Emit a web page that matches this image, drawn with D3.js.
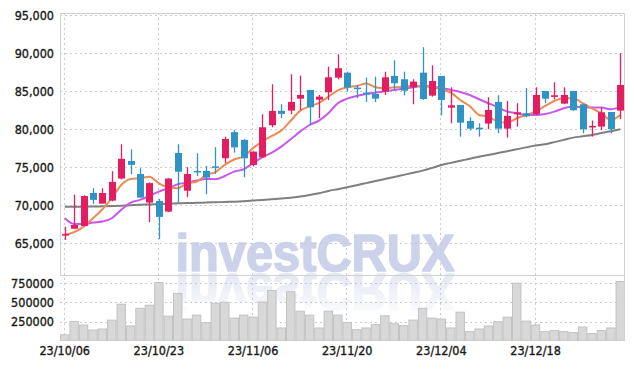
<!DOCTYPE html>
<html><head><meta charset="utf-8">
<script src="https://cdn.jsdelivr.net/npm/d3@7"></script>
<style>body{margin:0;background:#fff}svg{display:block}</style>
</head><body><svg id="c" width="634" height="369" xmlns:xlink="http://www.w3.org/1999/xlink"></svg>
<script>
const dates = ["23/10/06","23/10/10","23/10/11","23/10/12","23/10/13","23/10/16","23/10/17","23/10/18","23/10/19","23/10/20",
"23/10/23","23/10/24","23/10/25","23/10/26","23/10/27","23/10/30","23/10/31","23/11/01","23/11/02","23/11/03",
"23/11/06","23/11/07","23/11/08","23/11/09","23/11/10","23/11/13","23/11/14","23/11/15","23/11/16","23/11/17",
"23/11/20","23/11/21","23/11/22","23/11/23","23/11/24","23/11/27","23/11/28","23/11/29","23/11/30","23/12/01",
"23/12/04","23/12/05","23/12/06","23/12/07","23/12/08","23/12/11","23/12/12","23/12/13","23/12/14","23/12/15",
"23/12/18","23/12/19","23/12/20","23/12/21","23/12/22","23/12/26","23/12/27","23/12/28","24/01/02","24/01/03"];
const open = [66000,66900,67270,71600,70200,70600,73500,75800,74100,70340,
70560,69150,76870,71900,74500,74500,75100,76170,79600,78580,
75290,76300,80510,82400,82430,84000,85150,83870,84840,86760,
87420,85450,84800,84620,84920,86990,86550,85500,87420,84400,
86990,82820,83170,81070,80190,80730,83570,80060,81950,82080,
81950,85010,84230,83350,85010,83270,80290,80330,82250,82430];
const close = [66200,67400,71200,70700,71600,73060,76100,75300,71000,72900,
68460,73500,74400,74100,74400,73620,75000,78700,77600,76170,
77040,80240,82390,82000,83570,84490,82870,84270,86810,88000,
85450,85280,84530,84000,86810,86030,85050,86240,83960,86330,
83830,83130,80850,80060,79980,82520,80060,81730,82210,81690,
84490,84000,84450,84490,82480,79980,80420,82210,79980,85800];
const high = [67180,71400,71300,72230,72230,74460,78010,77350,74860,73000,
70820,73550,78010,74990,76830,75160,77620,79010,79890,78670,
77100,81950,85890,83270,87210,87030,85150,84490,88210,89840,
87550,85800,86760,86900,87550,89050,87550,86550,90760,88390,
86990,85500,83170,81560,80770,84190,84450,83700,83400,85410,
85500,85010,86160,85500,85010,83270,81130,82870,82250,89970];
const low = [65435,66900,67200,70170,70200,70500,73400,74070,70990,67760,
65530,69100,70340,71050,73840,71440,74110,75510,76910,73670,
75100,76200,80240,81430,81950,82520,80540,81430,83830,86550,
84920,84050,83570,83570,84490,85050,84450,83270,83830,84270,
81820,80770,79010,79800,79010,79980,79450,78880,80330,81560,
81860,83400,83920,83270,82400,79450,79010,79890,79450,81300];
const volume = [80000,254000,207000,143000,156000,271000,477000,195000,425000,464000,
759000,323000,618000,285000,336000,237000,490000,503000,297000,336000,
310000,506000,656000,169000,639000,387000,336000,169000,387000,336000,
241000,147000,169000,212000,327000,224000,199000,271000,425000,297000,
285000,169000,374000,122000,156000,195000,250000,310000,750000,259000,
207000,122000,135000,122000,109000,182000,96000,135000,169000,772000];
const ma5 = [66100,66450,67180,68280,69470,70910,72660,73450,73540,73750,
72880,72350,72230,72880,73060,74000,74350,75300,76000,76400,
77500,78400,79100,79800,81100,82400,83000,83450,84250,85100,
85500,85670,86000,85500,85370,85500,85580,85670,85670,85500,
85240,84800,83830,83040,81860,81640,80980,80850,81430,81860,
82300,83040,83700,84050,84050,83400,82740,82080,81200,81860];
const ma20 = [68280,67540,67540,67710,67840,68280,69380,70340,70690,71220,
71780,72230,72750,72970,73230,73450,73410,73840,74410,74720,
75510,76300,76910,77700,78670,79670,80540,81110,82080,83400,
84000,84360,84620,84800,84970,85150,85320,85500,85670,85580,
85410,85150,84880,84490,83920,83400,82870,82300,82080,81860,
81860,81990,82300,82740,82960,82870,82830,82830,82610,82960];
const ma60 = [69800,69800,69800,69820,69850,69880,69920,69980,70050,70100,
70150,70200,70240,70280,70310,70340,70380,70420,70460,70520,
70600,70680,70770,70870,70990,71130,71330,71570,71870,72100,
72350,72620,72900,73180,73440,73700,73980,74260,74540,74900,
75290,75560,75830,76100,76370,76600,76860,77100,77350,77600,
77830,78010,78290,78580,78880,79060,79230,79480,79730,79980];
const priceTicks = [65000,70000,75000,80000,85000,90000,95000];
const volTicks = [250000,500000,750000];
const dateTicks = ["23/10/06","23/10/23","23/11/06","23/11/20","23/12/04","23/12/18"];

const svg = d3.select("#c");
const L = 60, R = 625, T = 13, MB = 275, VB = 341;
const x = d3.scaleBand().domain(dates).range([L, R]).padding(0);
const cx = d => x(d) + x.bandwidth()/2;
const y = d3.scaleLinear().domain([65000, 95000]).range([243.2, 15]);
const yv = d3.scaleLinear().domain([0, 750000]).range([341, 283.2]);
const font = "'DejaVu Sans Condensed','DejaVu Sans',sans-serif";
const gridCol = "#c9c9d9";

// defs
const defs = svg.append("defs");
const grad = defs.append("linearGradient").attr("id","fade").attr("x1",0).attr("y1",0).attr("x2",0).attr("y2",1);
grad.append("stop").attr("offset","0").attr("stop-color","#fff").attr("stop-opacity",1);
grad.append("stop").attr("offset","1").attr("stop-color","#fff").attr("stop-opacity",0);
const mask = defs.append("mask").attr("id","m").attr("maskUnits","userSpaceOnUse")
  .attr("x",0).attr("y",272).attr("width",634).attr("height",48);
mask.append("rect").attr("x",0).attr("y",272).attr("width",634).attr("height",48).attr("fill","url(#fade)");
defs.append("clipPath").attr("id","cm").append("rect").attr("x",L).attr("y",T).attr("width",R-L).attr("height",MB-T);
defs.append("clipPath").attr("id","cv").append("rect").attr("x",L).attr("y",MB).attr("width",R-L).attr("height",VB-MB);

// watermark
const wm = svg.append("g");
wm.append("text").attr("id","wmt").attr("x",175.5).attr("y",270.5).text("investCRUX")
  .attr("font-family","'Liberation Sans',Arial,sans-serif").attr("font-weight","bold").attr("font-size",51)
  .attr("textLength",279).attr("lengthAdjust","spacingAndGlyphs")
  .attr("fill","rgb(192,200,228)").attr("stroke","rgb(192,200,228)").attr("stroke-width",1.6)
  .attr("stroke-linejoin","round").attr("opacity",0.8);
wm.append("g").attr("mask","url(#m)").append("use").attr("href","#wmt")
  .attr("transform","translate(0,544) scale(1,-1)").attr("opacity",0.55);

// grid
const g = svg.append("g");
g.selectAll(".hg").data(priceTicks).join("line")
  .attr("x1",L).attr("x2",R).attr("y1",d=>Math.round(y(d))+0.5).attr("y2",d=>Math.round(y(d))+0.5)
  .attr("stroke",gridCol).attr("stroke-dasharray","2,3");
g.selectAll(".vg").data(volTicks).join("line")
  .attr("x1",L).attr("x2",R).attr("y1",d=>Math.round(yv(d))+0.5).attr("y2",d=>Math.round(yv(d))+0.5)
  .attr("stroke",gridCol).attr("stroke-dasharray","2,3");
g.selectAll(".dg").data(dateTicks).join("line")
  .attr("x1",d=>Math.round(cx(d))-0.5).attr("x2",d=>Math.round(cx(d))-0.5).attr("y1",T).attr("y2",VB)
  .attr("stroke",gridCol).attr("stroke-dasharray","2,3");

// volume bars
svg.append("g").attr("clip-path","url(#cv)").selectAll("rect").data(dates).join("rect")
  .attr("x",d=>x(d)+0.5).attr("width",x.bandwidth()-1)
  .attr("y",(d,i)=>yv(volume[i])).attr("height",(d,i)=>yv(0)-yv(volume[i]))
  .attr("fill","#d8d8d8").attr("stroke","#c2c2c2").attr("stroke-width",1);

// frame
const fr = svg.append("g").attr("stroke","#d2d2d2").attr("fill","none");
fr.append("line").attr("x1",L).attr("x2",R).attr("y1",T+0.5).attr("y2",T+0.5);
fr.append("line").attr("x1",L).attr("x2",R).attr("y1",MB+0.5).attr("y2",MB+0.5);
fr.append("line").attr("x1",L+0.5).attr("x2",L+0.5).attr("y1",T).attr("y2",MB);
fr.append("line").attr("x1",R-0.5).attr("x2",R-0.5).attr("y1",T).attr("y2",VB);

// moving averages
const plot = svg.append("g").attr("clip-path","url(#cm)");
const ln = arr => d3.line().x((d,i)=>cx(dates[i])).y(d=>y(d)).curve(d3.curveMonotoneX)(arr);
plot.append("path").attr("d",ln(ma60)).attr("fill","none").attr("stroke","#7f7f7f").attr("stroke-width",2);
plot.append("path").attr("d",ln(ma20)).attr("fill","none").attr("stroke","#c957ec").attr("stroke-width",2);
plot.append("path").attr("d",ln(ma5)).attr("fill","none").attr("stroke","#ee8a52").attr("stroke-width",2);

// candles
const up = "#e41d62", dn = "#2f93c6";
const cg = plot.selectAll(".c").data(dates).join("g");
cg.append("line").attr("x1",d=>Math.round(cx(d))+0.5).attr("x2",d=>Math.round(cx(d))+0.5)
  .attr("y1",(d,i)=>y(high[i])).attr("y2",(d,i)=>y(low[i]))
  .attr("stroke",(d,i)=>close[i]>=open[i]?up:dn).attr("stroke-width",1.3);
cg.append("rect").attr("x",d=>Math.round(cx(d))-3).attr("width",7)
  .attr("y",(d,i)=>y(Math.max(open[i],close[i])))
  .attr("height",(d,i)=>Math.max(1.5, Math.abs(y(open[i])-y(close[i]))))
  .attr("fill",(d,i)=>close[i]>=open[i]?up:dn);

// axes labels
const fmt = d3.format(",");
const lab = sel => sel.attr("font-family",font).attr("font-size",12.5).attr("fill","#1a1a1a")
  .attr("stroke","#1a1a1a").attr("stroke-width",0.35);
lab(svg.append("g").selectAll("text").data(priceTicks).join("text")
  .attr("x",54).attr("y",d=>y(d)).attr("dy","0.38em").attr("text-anchor","end").text(d=>fmt(d)));
lab(svg.append("g").selectAll("text").data(volTicks).join("text")
  .attr("x",54).attr("y",d=>yv(d)).attr("dy","0.38em").attr("text-anchor","end").text(d=>d));
lab(svg.append("g").selectAll("text").data(dateTicks).join("text")
  .attr("x",d=>cx(d)).attr("y",355).attr("text-anchor","middle").text(d=>d));
</script></body></html>
